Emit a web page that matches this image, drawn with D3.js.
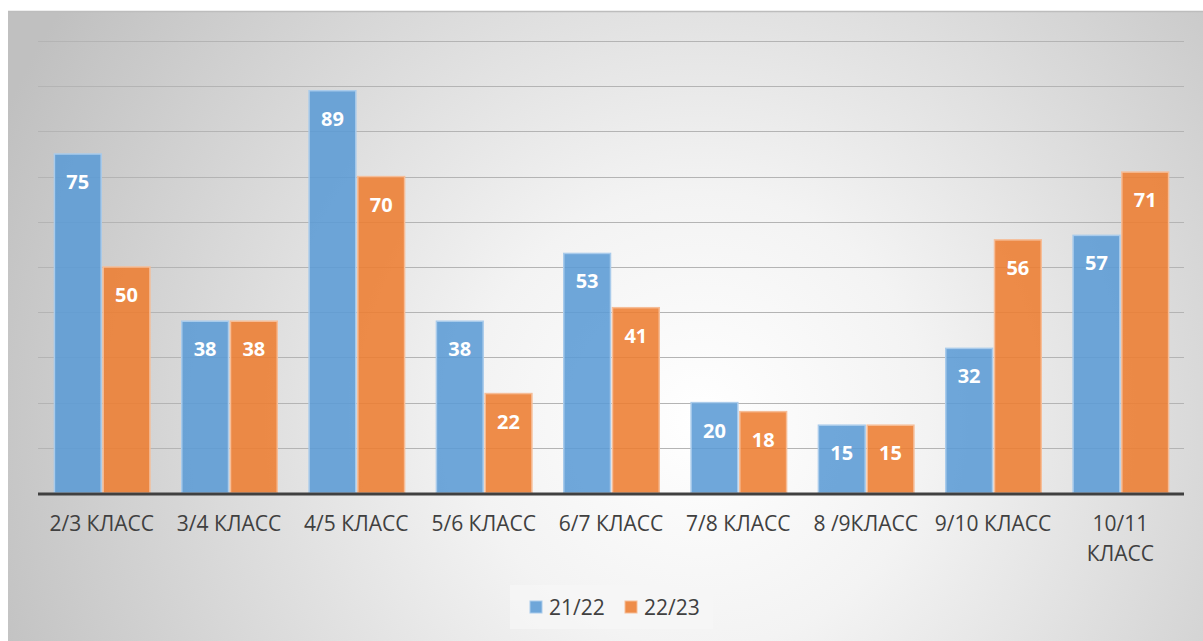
<!DOCTYPE html>
<html lang="ru">
<head>
<meta charset="UTF-8">
<title>Chart</title>
<style>
  body { margin: 0; background: #fff; }
  svg { display: block; font-family: "Open Sans", "Noto Sans", sans-serif; }
</style>
</head>
<body>
<script src="https://cdn.jsdelivr.net/npm/d3@7"></script>
<script>
var categories = ["2/3 КЛАСС", "3/4 КЛАСС", "4/5 КЛАСС", "5/6 КЛАСС", "6/7 КЛАСС", "7/8 КЛАСС", "8 /9КЛАСС", "9/10 КЛАСС", "10/11 КЛАСС"];
var seriesNames = ["21/22", "22/23"];
var values2122 = [75, 38, 89, 38, 53, 20, 15, 32, 57];
var values2223 = [50, 38, 70, 22, 41, 18, 15, 56, 71];
var yTicks = [0, 10, 20, 30, 40, 50, 60, 70, 80, 90, 100];
var colors = ["#5B9BD5", "#ED7D31"];
var strokes = ["#a9cbeb", "#f6bd97"];

var w = 1203, h = 641;
var plotLeft = 38, plotRight = 1184, plotTop = 41, plotBottom = 493;

var svg = d3.select("body").append("svg").attr("width", w).attr("height", h);

// фон с радиальным градиентом
var defs = svg.append("defs");
var grad = defs.append("radialGradient").attr("id", "bg")
    .attr("gradientUnits", "userSpaceOnUse")
    .attr("cx", 700).attr("cy", 420).attr("r", 760);
grad.append("stop").attr("offset", "0%").attr("stop-color", "#ffffff");
grad.append("stop").attr("offset", "30%").attr("stop-color", "#f3f3f3");
grad.append("stop").attr("offset", "100%").attr("stop-color", "#c0c0c0");

svg.append("rect").attr("x", 8).attr("y", 11).attr("width", w - 8).attr("height", h - 11)
    .attr("fill", "url(#bg)");
svg.append("line").attr("x1", 8).attr("x2", w).attr("y1", 11.5).attr("y2", 11.5)
    .attr("stroke", "#bdbdbd").attr("stroke-width", 1.5);

var x = d3.scaleBand().domain(categories).range([plotLeft, plotRight]).paddingInner(0.25).paddingOuter(0.125);
var y = d3.scaleLinear().domain([0, 100]).range([plotBottom, plotTop]);

// сетка
svg.append("g").selectAll("line")
    .data(yTicks.filter(function(d) { return d > 0; }))
    .enter().append("line")
    .attr("x1", plotLeft).attr("x2", plotRight)
    .attr("y1", function(d) { return Math.round(y(d)) + 0.5; })
    .attr("y2", function(d) { return Math.round(y(d)) + 0.5; })
    .attr("stroke", "#b4b4b4").attr("stroke-width", 1.2);

var series = [values2122, values2223];
var bw = x.bandwidth() / 2;

series.forEach(function(vals, s) {
    var g = svg.append("g");
    g.selectAll("rect").data(vals).enter().append("rect")
        .attr("x", function(d, i) { return x(categories[i]) + s * (bw + 1) + 0.5; })
        .attr("y", function(d) { return y(d); })
        .attr("width", bw - 1)
        .attr("height", function(d) { return plotBottom - y(d); })
        .attr("fill", colors[s]).attr("fill-opacity", 0.88)
        .attr("stroke", strokes[s]).attr("stroke-width", 1.5);
    g.selectAll("text").data(vals).enter().append("text")
        .text(function(d) { return d; })
        .attr("x", function(d, i) { return x(categories[i]) + s * (bw + 1) + bw / 2; })
        .attr("y", function(d) { return y(d) + 35; })
        .attr("text-anchor", "middle")
        .attr("font-size", "20px").attr("font-weight", "bold")
        .attr("fill", "#ffffff");
});

// ось
svg.append("line").attr("x1", plotLeft).attr("x2", plotRight).attr("y1", plotBottom + 1).attr("y2", plotBottom + 1)
    .attr("stroke", "#404040").attr("stroke-width", 3);

// подписи категорий
var lbl = svg.append("g").selectAll("text").data(categories).enter().append("text")
    .attr("text-anchor", "middle").attr("font-size", "21px").attr("fill", "#404040")
    .attr("transform", function(d) { return "translate(" + (x(d) + x.bandwidth() / 2) + ",531)"; });
lbl.each(function(d) {
    var t = d3.select(this);
    var lines = d === "10/11 КЛАСС" ? ["10/11", "КЛАСС"] : [d];
    lines.forEach(function(l, i) {
        t.append("tspan").attr("x", 0).attr("dy", i === 0 ? 0 : 30).text(l);
    });
});

// легенда
var lg = svg.append("g");
lg.append("rect").attr("x", 510).attr("y", 585).attr("width", 203).attr("height", 44)
    .attr("fill", "#f7f7f7").attr("fill-opacity", 0.7);
var legX = [530, 625];
seriesNames.forEach(function(n, i) {
    lg.append("rect").attr("x", legX[i]).attr("y", 601).attr("width", 12).attr("height", 12)
        .attr("fill", colors[i]).attr("fill-opacity", 0.88)
        .attr("stroke", strokes[i]).attr("stroke-width", 1);
    lg.append("text").attr("x", legX[i] + 19).attr("y", 615).attr("font-size", "21px")
        .attr("fill", "#404040").text(n);
});
</script>
</body>
</html>
